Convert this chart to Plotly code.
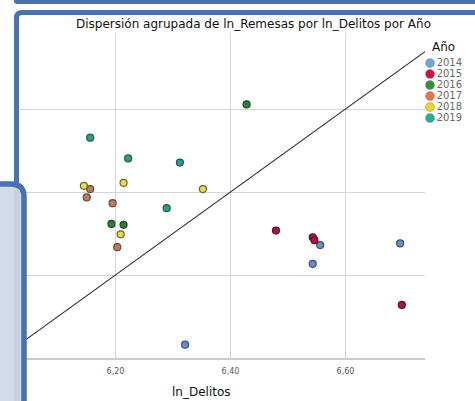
import plotly.graph_objects as go

W, H = 475, 401

# ---------------- data ----------------
years = ["2014", "2015", "2016", "2017", "2018", "2019"]
delitos = {
    "2014": [6.321, 6.556, 6.543, 6.695],
    "2015": [6.479, 6.543, 6.546, 6.698],
    "2016": [6.193, 6.214, 6.428],
    "2017": [6.156, 6.150, 6.195, 6.203],
    "2018": [6.145, 6.214, 6.352, 6.209],
    "2019": [6.156, 6.222, 6.312, 6.289],
}
remesas = {
    "2014": [6.032, 6.272, 6.227, 6.276],
    "2015": [6.307, 6.291, 6.284, 6.128],
    "2016": [6.323, 6.321, 6.611],
    "2017": [6.407, 6.387, 6.373, 6.267],
    "2018": [6.415, 6.422, 6.407, 6.298],
    "2019": [6.531, 6.481, 6.471, 6.361],
}
x_ticks = [6.2, 6.4, 6.6]
y_ticks = [6.2, 6.4, 6.6]
ref_line = [6.0, 6.8]

# ---------------- styles ----------------
fill = {"2014": "#6a8fc2", "2015": "#a8173f", "2016": "#2f7a3c",
        "2017": "#c27a5e", "2018": "#e4dc5a", "2019": "#2f9b88"}
edge = {"2014": "#3c4f70", "2015": "#5e1024", "2016": "#1f4a26",
        "2017": "#6e4536", "2018": "#6b6624", "2019": "#1f5a50"}
leg_fill = {"2014": "#74a3dc", "2015": "#c8163f", "2016": "#2f9438",
            "2017": "#ec7445", "2018": "#ecd42a", "2019": "#2aab9c"}


def px_x(p):
    return p / W


def px_y(p):
    return 1 - p / H


fig = go.Figure()

# reference line y = x
fig.add_trace(go.Scatter(x=ref_line, y=ref_line, mode="lines",
                         line=dict(color="#2a2a2a", width=1.1),
                         showlegend=False, hoverinfo="skip"))

for yr in years:
    fig.add_trace(go.Scatter(
        x=delitos[yr], y=remesas[yr], mode="markers", name=yr,
        marker=dict(size=7, color=fill[yr], line=dict(color=edge[yr], width=1.2)),
        showlegend=False))

# manual legend on its own axes
fig.add_trace(go.Scatter(
    x=[0.1] * len(years), y=[int(y) for y in years], mode="markers+text",
    text=years, textposition="middle right",
    textfont=dict(family="DejaVu Sans", size=10, color="#6a6a6a"),
    marker=dict(size=9, color=[leg_fill[y] for y in years],
                line=dict(color="rgba(120,120,120,0.5)", width=0.8)),
    xaxis="x2", yaxis="y2", showlegend=False, hoverinfo="skip", cliponaxis=False))

x0 = 6.2 + (20 - 115.5) / 575
x1 = 6.2 + (425 - 115.5) / 575
y1 = 6.0 + (358 - 33) / 415

fig.update_layout(
    width=W, height=H, margin=dict(l=0, r=0, t=0, b=0),
    paper_bgcolor="white", plot_bgcolor="white",
    separators=",.",
    showlegend=False,
    xaxis=dict(domain=[px_x(20), px_x(425)], range=[x0, x1],
               tickvals=x_ticks, tickformat=".2f",
               showgrid=True, gridcolor="#d6d6d6", gridwidth=1,
               zeroline=False, showline=True, linecolor="#cbcbcb", linewidth=2,
               ticks="", ticklabelstandoff=4,
               tickfont=dict(family="DejaVu Sans", size=8, color="#5a5a5a")),
    yaxis=dict(domain=[px_y(358), px_y(33)], range=[6.0, y1],
               tickvals=y_ticks, showticklabels=False,
               showgrid=True, gridcolor="#d6d6d6", gridwidth=1,
               zeroline=False, showline=False),
    xaxis2=dict(domain=[px_x(425), px_x(475)], range=[0, 1], visible=False,
                anchor="y2", fixedrange=True),
    yaxis2=dict(domain=[px_y(123.5), px_y(57.5)], range=[2019.5, 2013.5],
                visible=False, anchor="x2", fixedrange=True),
)

annotations = [
    dict(text="Dispersión agrupada de ln_Remesas por ln_Delitos por Año",
         x=px_x(253), y=px_y(24), xref="paper", yref="paper", showarrow=False,
         xanchor="center", yanchor="middle",
         font=dict(family="DejaVu Sans", size=12, color="#111111")),
    dict(text="ln_Delitos", x=px_x(201), y=px_y(392), xref="paper", yref="paper",
         showarrow=False, xanchor="center", yanchor="middle",
         font=dict(family="DejaVu Sans", size=12, color="#111111")),
    dict(text="Año", x=px_x(443.5), y=px_y(47), xref="paper", yref="paper",
         showarrow=False, xanchor="center", yanchor="middle",
         font=dict(family="DejaVu Sans", size=12, color="#111111")),
]
fig.update_layout(annotations=annotations)


def path(points, close=False):
    s = ""
    for cmd, pts in points:
        s += cmd + " " + " ".join(f"{px_x(a):.5f},{px_y(b):.5f}" for a, b in pts) + " "
    if close:
        s += "Z"
    return s


BLUE = "#4a72b0"
shapes = [
    # top bar (bottom of a box above)
    dict(type="path", xref="paper", yref="paper", layer="above",
         path=path([("M", [(14, -5)]), ("L", [(14, 1)]), ("Q", [(14, 4), (17, 4)]),
                    ("L", [(480, 4)]), ("L", [(480, -5)])], close=True),
         fillcolor=BLUE, line=dict(width=0)),
    # chart frame
    dict(type="path", xref="paper", yref="paper", layer="above",
         path=path([("M", [(16.5, 420)]), ("L", [(16.5, 18)]),
                    ("Q", [(16.5, 12.5), (22, 12.5)]), ("L", [(490, 12.5)])]),
         line=dict(color=BLUE, width=5)),
    # light side box
    dict(type="path", xref="paper", yref="paper", layer="above",
         path=path([("M", [(-10, 184)]), ("L", [(11, 184)]),
                    ("Q", [(24, 184), (24, 197)]), ("L", [(24, 420)]),
                    ("L", [(-10, 420)])], close=True),
         fillcolor="#d3dbea", line=dict(color=BLUE, width=5.5)),
    dict(type="rect", xref="paper", yref="paper", layer="above",
         x0=px_x(14), x1=px_x(20), y0=px_y(402), y1=px_y(190),
         fillcolor="#c6d1e4", line=dict(width=0)),
]
fig.update_layout(shapes=shapes)

fig.write_html("out.html", config={"displayModeBar": False},
               post_script="document.body.style.margin='0px';")
